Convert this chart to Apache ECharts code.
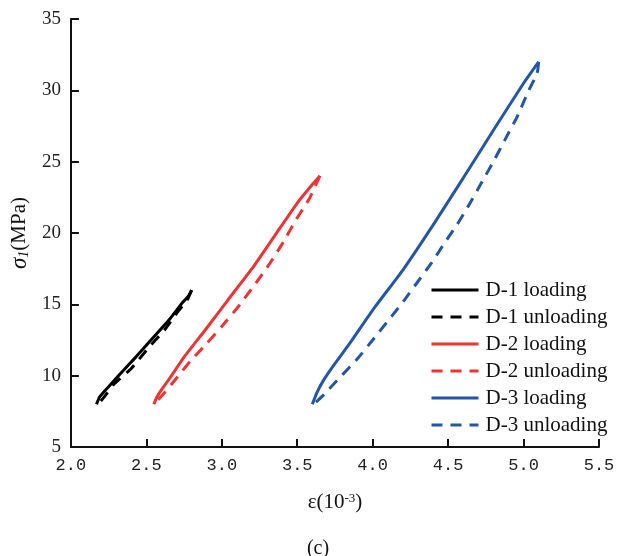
<!DOCTYPE html>
<html>
<head>
<meta charset="utf-8">
<script src="https://cdn.jsdelivr.net/npm/echarts@6/dist/echarts.min.js"></script>
<style>
  html, body { margin: 0; padding: 0; background: #fff; }
  #chart { width: 629px; height: 556px; }
</style>
</head>
<body>
<div id="chart"></div>
<script>
// strain (10^-3), stress (MPa)
const d1Loading = [[2.17, 8.0], [2.19, 8.5], [2.23, 9.0], [2.32, 10.05], [2.43, 11.3], [2.54, 12.6], [2.65, 13.9], [2.73, 15.0], [2.78, 15.6], [2.80, 16.0]]
const d1Unloading = [[2.80, 16.0], [2.77, 15.3], [2.71, 14.5], [2.62, 13.2], [2.51, 11.9], [2.40, 10.5], [2.28, 9.35], [2.22, 8.5], [2.18, 8.0]]
const d2Loading = [[2.55, 8.0], [2.57, 8.5], [2.60, 9.0], [2.66, 9.9], [2.75, 11.3], [2.89, 13.2], [3.04, 15.3], [3.20, 17.5], [3.35, 19.8], [3.50, 22.1], [3.60, 23.4], [3.65, 24.0]]
const d2Unloading = [[3.65, 24.0], [3.58, 22.4], [3.49, 20.9], [3.41, 19.4], [3.32, 17.9], [3.22, 16.4], [3.11, 14.85], [3.00, 13.45], [2.90, 12.25], [2.79, 11.0], [2.69, 9.7], [2.62, 8.8], [2.56, 8.1]]
const d3Loading = [[3.60, 8.0], [3.63, 8.8], [3.67, 9.6], [3.74, 10.7], [3.85, 12.3], [4.00, 14.6], [4.20, 17.4], [4.40, 20.55], [4.60, 23.85], [4.80, 27.2], [5.00, 30.5], [5.10, 32.0]]
const d3Unloading = [[5.10, 32.0], [5.09, 31.2], [5.03, 29.9], [4.96, 28.2], [4.88, 26.6], [4.80, 25.0], [4.72, 23.5], [4.64, 22.0], [4.56, 20.6], [4.47, 19.2], [4.39, 17.9], [4.30, 16.6], [4.21, 15.3], [4.11, 13.95], [4.00, 12.5], [3.90, 11.2], [3.78, 9.85], [3.67, 8.6], [3.61, 8.0]]

const seriesNames = ['D-1 loading', 'D-1 unloading', 'D-2 loading', 'D-2 unloading', 'D-3 loading', 'D-3 unloading']
const seriesData = [d1Loading, d1Unloading, d2Loading, d2Unloading, d3Loading, d3Unloading]
const seriesColors = ['#000000', '#000000', '#EE3333', '#EE3333', '#2456A8', '#2456A8']

const serif = '"Liberation Serif", "Times New Roman", serif'

const chart = echarts.init(document.getElementById('chart'))

chart.setOption({
  animation: false,
  grid: { left: 69, right: 30, top: 19, bottom: 109 },
  legend: {
    orient: 'vertical',
    left: 425,
    top: 274,
    itemWidth: 47,
    itemHeight: 14,
    itemGap: 5,
    itemStyle: { opacity: 0 },
    lineStyle: { width: 3 },
    textStyle: { fontFamily: serif, fontSize: 21, color: '#111', lineHeight: 22, padding: [0, 0, 0, 2] },
    data: seriesNames
  },
  xAxis: {
    type: 'value',
    min: 2,
    max: 5.5,
    interval: 0.5,
    name: 'ε(10{sup|-3})',
    nameLocation: 'middle',
    nameGap: 45,
    nameTextStyle: {
      fontFamily: serif, fontSize: 21, color: '#111',
      rich: { sup: { fontFamily: serif, fontSize: 13, color: '#111', verticalAlign: 'top' } }
    },
    axisLine: { lineStyle: { color: '#111', width: 2 } },
    axisTick: { inside: true, length: 8, lineStyle: { color: '#111', width: 2 } },
    axisLabel: {
      fontFamily: '"Liberation Mono", monospace', fontSize: 17, color: '#222', margin: 10,
      formatter: v => v.toFixed(1)
    },
    splitLine: { show: false }
  },
  yAxis: {
    type: 'value',
    min: 5,
    max: 35,
    interval: 5,
    name: '{s|σ}{sub|1}(MPa)',
    nameLocation: 'middle',
    nameGap: 38,
    nameTextStyle: {
      fontFamily: serif, fontSize: 21, color: '#111',
      rich: {
        s: { fontFamily: serif, fontSize: 23, fontStyle: 'italic', color: '#111' },
        sub: { fontFamily: serif, fontSize: 14, fontStyle: 'italic', color: '#111', verticalAlign: 'bottom' }
      }
    },
    axisLine: { show: true, lineStyle: { color: '#111', width: 2 } },
    axisTick: { show: true, inside: true, length: 8, lineStyle: { color: '#111', width: 2 } },
    axisLabel: { fontFamily: serif, fontSize: 19, color: '#222', margin: 10 },
    splitLine: { show: false }
  },
  graphic: [{
    type: 'text',
    style: {
      text: '(c)', x: 318, y: 549, align: 'center', verticalAlign: 'middle',
      font: '20px "Liberation Serif"', fill: '#111'
    }
  }],
  series: seriesNames.map((name, i) => ({
    name,
    type: 'line',
    data: seriesData[i],
    symbol: 'none',
    smooth: 0.15,
    color: seriesColors[i],
    lineStyle: { color: seriesColors[i], width: 3, type: i % 2 ? [11, 8] : 'solid' }
  }))
})
</script>
</body>
</html>
